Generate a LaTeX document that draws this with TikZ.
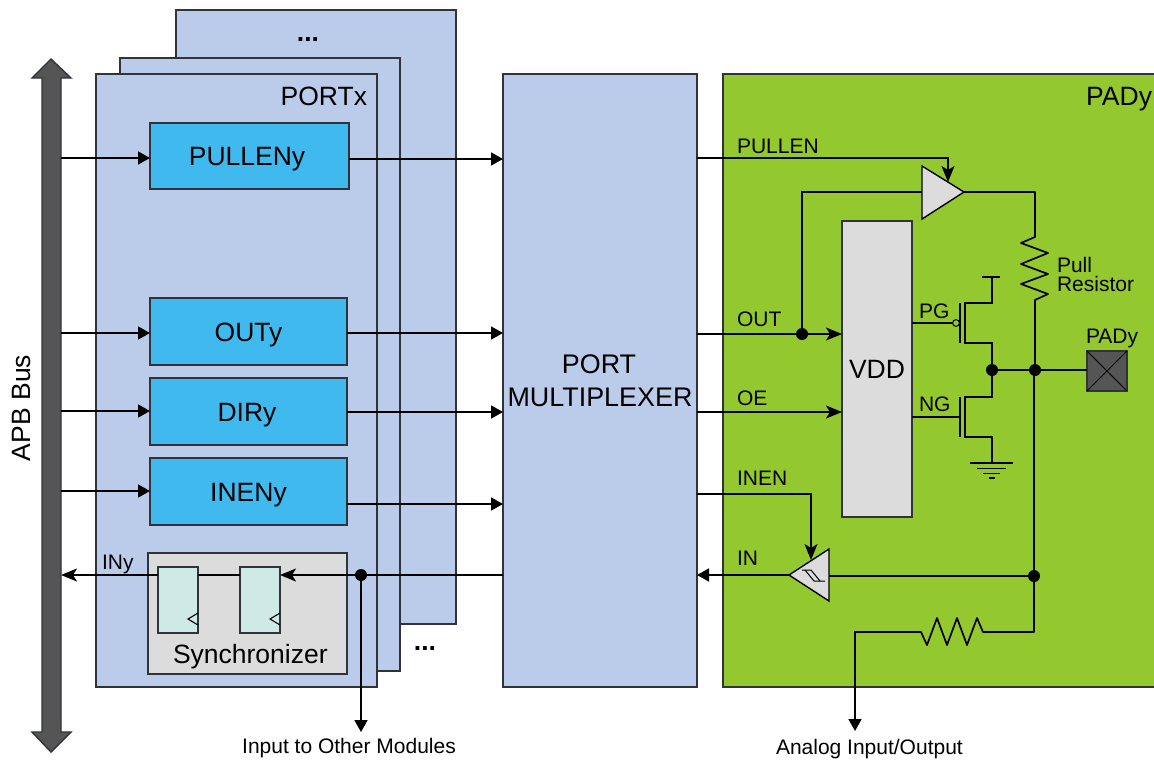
\documentclass[tikz,border=0pt]{standalone}
\usepackage{fontspec}
\setmainfont{Liberation Sans}
\usetikzlibrary{arrows.meta,calc}
\definecolor{portblue}{HTML}{BBCCEA}
\definecolor{regblue}{HTML}{3FB9EE}
\definecolor{padgreen}{HTML}{94C82F}
\definecolor{lightgray}{HTML}{DCDCDC}
\definecolor{ffgreen}{HTML}{CFE9E5}
\definecolor{busgray}{HTML}{555555}
\definecolor{edgegray}{HTML}{30343A}
\tikzset{
  bx/.style={draw=edgegray,line width=1.4pt,anchor=north west,outer sep=0pt,inner sep=0pt,align=center},
  portbox/.style={bx,fill=portblue},
  regbox/.style={bx,fill=regblue,font=\fontsize{26.5}{28}\selectfont,text height=19pt,text depth=0pt},
  graybox/.style={bx,fill=lightgray,font=\fontsize{26.5}{28}\selectfont,text height=19pt,text depth=0pt},
  ffbox/.style={bx,fill=ffgreen},
  big/.style={font=\fontsize{26.5}{28}\selectfont,inner sep=0pt,outer sep=0pt},
  small/.style={font=\fontsize{21}{20}\selectfont,inner sep=0pt,outer sep=0pt},
  wire/.style={draw=black,line width=1.7pt},
  awire/.style={wire,-{Triangle[length=12pt,width=13pt]}},
  swire/.style={wire,-{Stealth[length=16pt,width=13pt,inset=4pt]}},
  jdot/.style={circle,fill=black,minimum size=12pt,inner sep=0pt,outer sep=0pt},
  gatebody/.style={draw=black,fill=lightgray,line width=1.4pt,line join=miter},
}
\begin{document}
\begin{tikzpicture}[x=1pt,y=-1pt]
\useasboundingbox (0,0) rectangle (1154,761);
\fill[white] (0,0) rectangle (1154,761);

% stacked port boxes
\node[portbox,minimum width=280pt,minimum height=614pt] (port3) at (176,10) {};
\node[portbox,minimum width=280pt,minimum height=613pt] (port2) at (120,58) {};
\node[portbox,minimum width=281pt,minimum height=613pt] (port1) at (96,74) {};
\node[big,anchor=base east] (portx) at (367,105) {PORTx};
\node[big,anchor=base,font=\fontsize{26.5}{28}\selectfont\bfseries] (dots1) at (308,41) {...};
\node[big,anchor=base,font=\fontsize{26.5}{28}\selectfont\bfseries] (dots2) at (425,650) {...};

% APB bus
\draw[fill=busgray,draw=edgegray,line width=1.4pt,line join=miter]
  (51,59) -- (71,78) -- (61,78) -- (61,732) -- (71,732) -- (51,752) -- (32,732) -- (42,732) -- (42,78) -- (32,78) -- cycle;
\coordinate (busR) at (61,400);
\node[big,anchor=base,rotate=90] (apb) at (30,408) {APB Bus};

% registers
\node[regbox,minimum width=199pt,minimum height=66pt] (pulleny) at (150,123) {\hspace*{-5pt}PULLENy};
\node[regbox,minimum width=197pt,minimum height=67pt] (outy) at (150,298) {OUTy};
\node[regbox,minimum width=197pt,minimum height=67pt] (diry) at (150,378) {\hspace*{-3pt}DIRy};
\node[regbox,minimum width=197pt,minimum height=67pt] (ineny) at (150,458) {INENy};

% synchronizer
\node[bx,fill=lightgray,minimum width=199pt,minimum height=121pt] (sync) at (148,553) {};
\node[big,anchor=base west] (synclabel) at (173,663) {Synchronizer};
\node[ffbox,minimum width=40pt,minimum height=66pt] (ff1) at (158,567) {};
\node[ffbox,minimum width=40pt,minimum height=66pt] (ff2) at (240,567) {};
\draw[line width=1.1pt] (198,613) -- (188,619) -- (198,625);
\draw[line width=1.1pt] (280,613) -- (270,619) -- (280,625);

% multiplexer and pad
\node[portbox,minimum width=194pt,minimum height=613pt,font=\fontsize{26.9}{30}\selectfont] (mux) at (503,74) {\hspace*{-2pt}PORT\\[3pt]MULTIPLEXER};
\node[bx,fill=padgreen,minimum width=445pt,minimum height=613pt] (pad) at (723,74) {};
\node[big,anchor=base east] (padlabel) at (1152,105) {PADy};
\node[graybox,minimum width=70pt,minimum height=296pt] (vdd) at (842,221) {VDD};

% bus to registers
\draw[awire] (busR |- 0,158) -- (150,158) coordinate (a1);
\draw[awire] ([yshift=-1.5pt]busR |- outy.west) -- ([yshift=-1.5pt]outy.west);
\draw[awire] ([yshift=0.5pt]busR |- diry.west) -- ([yshift=0.5pt]diry.west);
\draw[awire] ([yshift=0.5pt]busR |- ineny.west) -- ([yshift=0.5pt]ineny.west);

% registers to mux
\draw[awire] ([yshift=-3pt]pulleny.east) -- ([yshift=-3pt]pulleny.east -| mux.west);
\draw[awire] ([yshift=-1.5pt]outy.east) -- ([yshift=-1.5pt]outy.east -| mux.west);
\draw[awire] ([yshift=-0.5pt]diry.east) -- ([yshift=-0.5pt]diry.east -| mux.west);
\draw[awire] ([yshift=-12.5pt]ineny.east) -- ([yshift=-12.5pt]ineny.east -| mux.west);

% input path
\node[jdot] (d0) at (361,575) {};
\coordinate (ff2in) at (ff2.north east |- d0);
\coordinate (ff2out) at (ff2.north west |- d0);
\coordinate (ff1in) at (ff1.north east |- d0);
\coordinate (ff1out) at (ff1.north west |- d0);
\coordinate (other) at (361,732);
\draw[wire] (mux.west |- d0) -- (d0);
\draw[swire] (d0) -- (ff2in);
\draw[wire] (ff2out) -- (ff1in);
\draw[swire] (ff1out) -- (busR |- d0);
\draw[awire] (d0) -- (other);
\node[small,anchor=base west] (iny) at (102,569) {INy};
\node[small,anchor=base] (otherlabel) at (349,753) {Input to Other Modules};

% pad signals
\node[small,anchor=base west] (lpullen) at (737,153) {PULLEN};
\node[small,anchor=base west] (lout) at (737,326) {OUT};
\node[small,anchor=base west] (loe) at (737,405) {OE};
\node[small,anchor=base west] (linen) at (737,485) {INEN};
\node[small,anchor=base west] (lin) at (737,565) {IN};
\node[small,anchor=base west] (lpg) at (919,318) {PG};
\node[small,anchor=base west] (lng) at (919,411) {NG};

% pull driver
\coordinate (pullin) at (922,192);
\coordinate (pullout) at (964,192);
\coordinate (pullen) at (948,182);
\draw[gatebody] (922,166) -- (964,192) -- (922,219) -- cycle;
\draw[swire] (mux.east |- 0,158) -| (pullen);
\node[jdot] (d1) at (802,334) {};
\draw[wire] (mux.east |- d1) -- (d1);
\draw[swire] (d1) -- (vdd.west |- d1);
\draw[wire] (d1) |- (pullin);
\draw[swire] (mux.east |- 0,412) -- (vdd.west |- 0,412);

% pull resistor and pad wire
\node[jdot] (d2) at (1035,370) {};
\node[jdot] (d3) at (992,370) {};
\node[jdot] (d4) at (1034,576) {};
\draw[wire,line join=round] (pullout) -| (1035,237) -- (1021,243) -- (1048,253) -- (1021,264) -- (1048,274) -- (1021,284) -- (1048,294) -- (1035,300) -- (d2);
\draw[wire] (d3) -- (d2);
\node[bx,fill=busgray,minimum width=40pt,minimum height=40pt] (padsq) at (1087,351) {};
\draw[line width=1pt,draw=black] (padsq.north west) -- (padsq.south east);
\draw[line width=1pt,draw=black] (padsq.north east) -- (padsq.south west);
\draw[wire] (d2) -- (d2 -| padsq.west);
\node[small,anchor=base west] (lpady) at (1086,343) {PADy};
\node[small,anchor=base west] (lpull) at (1057,272) {Pull};
\node[small,anchor=base west] (lres) at (1057,291) {Resistor};

% output transistors
\coordinate (pg) at (vdd.east |- 0,323);
\coordinate (ng) at (vdd.east |- 0,417);
\draw[line width=1.1pt] (pg) -- (952.5,323);
\draw[line width=1pt,fill=padgreen] (956,323) circle (3.4pt);
\draw[line width=1.4pt] (960,303) -- (960,343);
\draw[line width=1.4pt] (982,277) -- (1000,277);
\draw[line width=1.4pt] (992,277) -- (992,303) -- (965,303) -- (965,343) -- (992,343) -- (992,397) -- (965,397) -- (965,437) -- (992,437) -- (992,463);
\draw[line width=1.1pt] (ng) -- (960,417);
\draw[line width=1.4pt] (960,397) -- (960,437);
\draw[line width=1.4pt] (970,463) -- (1013,463);
\draw[line width=1.1pt] (977,468.5) -- (1006,468.5);
\draw[line width=1.1pt] (983,473.5) -- (1000,473.5);
\draw[line width=1.1pt] (989,478) -- (995,478);

% input buffer
\coordinate (schmin) at (829,576);
\coordinate (schmout) at (789,575);
\coordinate (inen) at (811,560);
\draw[gatebody] (829,549) -- (829,601) -- (789,575) -- cycle;
\draw[line width=1pt] (802,570) -- (811,570) -- (820,581) -- (825,581);
\draw[line width=1pt] (805,570) -- (814,581) -- (820,581);
\draw[swire] (mux.east |- 0,494) -| (inen);
\draw[wire] (schmin) -- (d4);
\draw[awire] (schmout) -- (mux.east |- schmout);

% analog path
\coordinate (analog) at (855,731);
\draw[wire,line join=round] (d2) -- (1034,370) -- (1034,632) -- (983,632) -- (977,618) -- (967,645) -- (957,618) -- (947,645) -- (937,618) -- (927,645) -- (921,632) -- (855,632);
\draw[awire] (855,631.2) -- (analog);
\node[small,anchor=base west] (lanalog) at (776,754) {Analog Input/Output};
\end{tikzpicture}
\end{document}
